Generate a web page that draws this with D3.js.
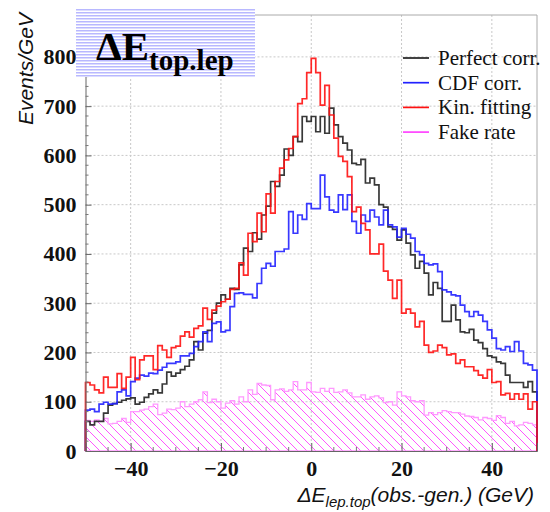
<!DOCTYPE html>
<html>
<head>
<meta charset="utf-8">
<script src="https://cdn.jsdelivr.net/npm/d3@7"></script>
<style>
  body { margin: 0; background: #fff; }
  svg { display: block; }
</style>
</head>
<body>
<script>
// histogram of delta E, 1 GeV bins from -50 to 50
var width = 550, height = 512;
var xMin = -50, xMax = 50, binW = 1;

var perfect = [60, 53, 60, 60, 77, 93, 96, 99, 103, 106, 108, 95, 99, 109, 116, 124, 118, 136, 160, 152,
  158, 165, 172, 185, 222, 205, 239, 245, 280, 300, 317, 308, 330, 328, 378, 412, 405, 443, 430, 479,
  497, 547, 537, 560, 613, 600, 638, 628, 679, 669, 679, 648, 679, 645, 696, 662, 638, 625, 611, 584,
  581, 592, 544, 554, 540, 500, 495, 455, 450, 428, 449, 422, 398, 371, 385, 361, 317, 342, 330, 263,
  263, 296, 266, 242, 240, 247, 225, 220, 208, 193, 190, 181, 178, 154, 139, 139, 139, 129, 141, 120];

var cdf = [83, 85, 80, 95, 99, 95, 96, 120, 124, 112, 141, 148, 154, 152, 158, 157, 164, 170, 178, 178,
  181, 193, 193, 198, 212, 222, 242, 222, 259, 262, 242, 245, 293, 320, 321, 318, 318, 311, 340, 371,
  381, 375, 405, 405, 410, 486, 442, 479, 470, 502, 492, 492, 560, 516, 489, 485, 520, 490, 520, 466,
  442, 479, 466, 489, 475, 459, 489, 459, 455, 434, 452, 440, 432, 405, 398, 381, 378, 380, 364, 327,
  323, 317, 315, 296, 283, 273, 283, 276, 263, 246, 229, 208, 205, 212, 202, 222, 203, 178, 175, 164];

var kinfit = [139, 134, 124, 118, 150, 129, 129, 157, 127, 150, 190, 145, 185, 193, 193, 165, 214, 205, 190, 210,
  213, 233, 242, 231, 249, 254, 290, 267, 286, 294, 303, 308, 328, 330, 382, 357, 442, 425, 483, 445,
  522, 483, 547, 574, 591, 614, 638, 705, 715, 768, 797, 768, 702, 742, 682, 635, 598, 588, 557, 486,
  495, 462, 449, 400, 400, 420, 365, 347, 310, 347, 280, 288, 280, 252, 263, 215, 200, 203, 215, 210,
  195, 197, 178, 185, 171, 171, 163, 154, 148, 165, 139, 141, 114, 117, 105, 116, 105, 116, 85, 100];

var fake = [62, 60, 63, 60, 66, 55, 56, 60, 66, 58, 80, 80, 83, 85, 90, 95, 74, 77, 85, 84,
  87, 100, 90, 95, 100, 104, 120, 98, 105, 100, 87, 97, 102, 95, 110, 100, 124, 115, 137, 134,
  133, 104, 124, 126, 121, 124, 141, 124, 124, 139, 120, 119, 127, 121, 127, 119, 120, 124, 118, 110,
  110, 114, 105, 110, 112, 108, 98, 100, 93, 120, 112, 110, 102, 100, 102, 73, 78, 74, 78, 82,
  80, 78, 78, 75, 71, 70, 68, 63, 68, 66, 62, 72, 68, 56, 60, 51, 53, 58, 56, 53];

var xTicks = [-40, -20, 0, 20, 40];
var yTicks = [0, 100, 200, 300, 400, 500, 600, 700, 800];
var legendNames = ["Perfect corr.", "CDF corr.", "Kin. fitting", "Fake rate"];
var legendColors = ["#222", "#2222ff", "#ff1111", "#ff44ff"];

var pLeft = 85.5, pRight = 537, pTop = 15, pBottom = 451;

var svg = d3.select("body").append("svg")
  .attr("width", width)
  .attr("height", height);

var xScale = d3.scaleLinear().domain([xMin, xMax]).range([pLeft, pRight]);
var yScale = d3.scaleLinear().domain([0, 885]).range([pBottom, pTop]);

var defs = svg.append("defs");
// hatch for fake rate
defs.append("pattern")
  .attr("id", "hatch")
  .attr("patternUnits", "userSpaceOnUse")
  .attr("width", 9).attr("height", 9)
  .append("path")
  .attr("d", "M0,0 L9,9 M-1,8 L1,10 M8,-1 L10,1")
  .attr("stroke", "#ff55ff")
  .attr("stroke-width", 1);
// horizontal stripes for the title box
var stripes = defs.append("pattern")
  .attr("id", "stripes")
  .attr("patternUnits", "userSpaceOnUse")
  .attr("width", 6).attr("height", 3);
stripes.append("rect").attr("width", 6).attr("height", 3).attr("fill", "#fff");
stripes.append("rect").attr("width", 6).attr("height", 1.5).attr("fill", "#b8b8ff");

// grid
svg.selectAll("line.gx").data(xTicks).enter().append("line")
  .attr("x1", d => xScale(d)).attr("x2", d => xScale(d))
  .attr("y1", pTop).attr("y2", pBottom)
  .attr("stroke", "#c8c8c8").attr("stroke-dasharray", "2,2");
svg.selectAll("line.gy").data(yTicks.slice(1)).enter().append("line")
  .attr("x1", pLeft).attr("x2", pRight)
  .attr("y1", d => yScale(d)).attr("y2", d => yScale(d))
  .attr("stroke", "#c8c8c8").attr("stroke-dasharray", "2,2");

// frame
svg.append("path")
  .attr("d", "M" + pLeft + "," + pTop + "H" + pRight + "V" + pBottom)
  .attr("fill", "none").attr("stroke", "#aaa").attr("stroke-width", 1);

// step path for a histogram
function stepPoints(vals) {
  var pts = [[xScale(xMin), yScale(0)]];
  vals.forEach(function(v, i) {
    var x0 = xMin + i * binW;
    pts.push([xScale(x0), yScale(v)]);
    pts.push([xScale(x0 + binW), yScale(v)]);
  });
  pts.push([xScale(xMax), yScale(0)]);
  return pts;
}
var line = d3.line();

// fake rate: hatched area with light outline
svg.append("path")
  .attr("d", line(stepPoints(fake)) + "Z")
  .attr("fill", "url(#hatch)")
  .attr("stroke", "#ff99ff")
  .attr("stroke-width", 1.3);

[[perfect, legendColors[0]], [cdf, legendColors[1]], [kinfit, legendColors[2]]].forEach(function(s) {
  svg.append("path")
    .attr("d", line(stepPoints(s[0])))
    .attr("fill", "none")
    .attr("stroke", s[1])
    .attr("stroke-width", 1.7)
    .attr("stroke-opacity", 0.9);
});

// axes
var yAxis = d3.axisLeft(yScale).tickValues(yTicks).tickSize(-6).tickPadding(9).tickFormat(d3.format("d"));
var gy = svg.append("g").attr("transform", "translate(" + pLeft + ",0)").call(yAxis);
var yMinor = d3.range(20, 885, 20).filter(d => d % 100 != 0);
gy.selectAll("line.minor").data(yMinor).enter().append("line")
  .attr("class", "minor")
  .attr("x1", 0).attr("x2", 3)
  .attr("y1", d => yScale(d)).attr("y2", d => yScale(d))
  .attr("stroke", "#777");

var xAxis = d3.axisBottom(xScale).tickValues(xTicks).tickSize(-8).tickPadding(10);
var gx = svg.append("g").attr("transform", "translate(0," + pBottom + ")").call(xAxis);
var xMinor = d3.range(-45, 50, 5).filter(d => d % 20 != 0);
gx.selectAll("line.minor").data(xMinor).enter().append("line")
  .attr("class", "minor")
  .attr("x1", d => xScale(d)).attr("x2", d => xScale(d))
  .attr("y1", 0).attr("y2", -4)
  .attr("stroke", "#777");

svg.selectAll(".domain").attr("stroke", "#666");
svg.selectAll(".tick line").attr("stroke", "#666");
svg.selectAll(".tick text")
  .attr("font-family", "'Liberation Serif', 'DejaVu Serif', serif")
  .attr("font-weight", "bold")
  .attr("font-size", 22)
  .attr("fill", "#111");
gx.selectAll(".tick text").attr("y", 9).attr("dy", "0.71em");

// axis titles
svg.append("text")
  .attr("transform", "translate(33,13) rotate(-90)")
  .attr("text-anchor", "end")
  .attr("font-family", "'Liberation Sans', Arial, sans-serif")
  .attr("font-style", "italic")
  .attr("font-size", 21)
  .attr("fill", "#111")
  .text("Events/GeV");

var xt = svg.append("text")
  .attr("x", 534).attr("y", 502)
  .attr("text-anchor", "end")
  .attr("font-family", "'Liberation Sans', Arial, sans-serif")
  .attr("font-style", "italic")
  .attr("font-size", 21)
  .attr("fill", "#111");
xt.append("tspan").text("\u0394E");
xt.append("tspan").attr("font-size", 15).attr("dy", 5).text("lep.top");
xt.append("tspan").attr("dy", -5).text("(obs.-gen.) (GeV)");

// title box
svg.append("rect")
  .attr("x", 76).attr("y", 8).attr("width", 179).attr("height", 69)
  .attr("fill", "url(#stripes)");
var tt = svg.append("text")
  .attr("x", 96).attr("y", 60)
  .attr("font-family", "'Liberation Serif', 'DejaVu Serif', serif")
  .attr("font-weight", "bold")
  .attr("font-size", 41)
  .attr("fill", "#000");
tt.append("tspan").text("\u0394E");
tt.append("tspan").attr("font-size", 29).attr("dy", 10).text("top.lep");

// legend
var lg = svg.append("g");
legendNames.forEach(function(name, i) {
  var y = 58 + i * 24.7;
  lg.append("line")
    .attr("x1", 403).attr("x2", 429)
    .attr("y1", y).attr("y2", y)
    .attr("stroke", legendColors[i]).attr("stroke-width", 1.7);
  lg.append("text")
    .attr("x", 438).attr("y", y + 7)
    .attr("font-family", "'Liberation Serif', 'DejaVu Serif', serif")
    .attr("font-size", 21)
    .attr("fill", "#111")
    .text(name);
});
</script>
</body>
</html>
